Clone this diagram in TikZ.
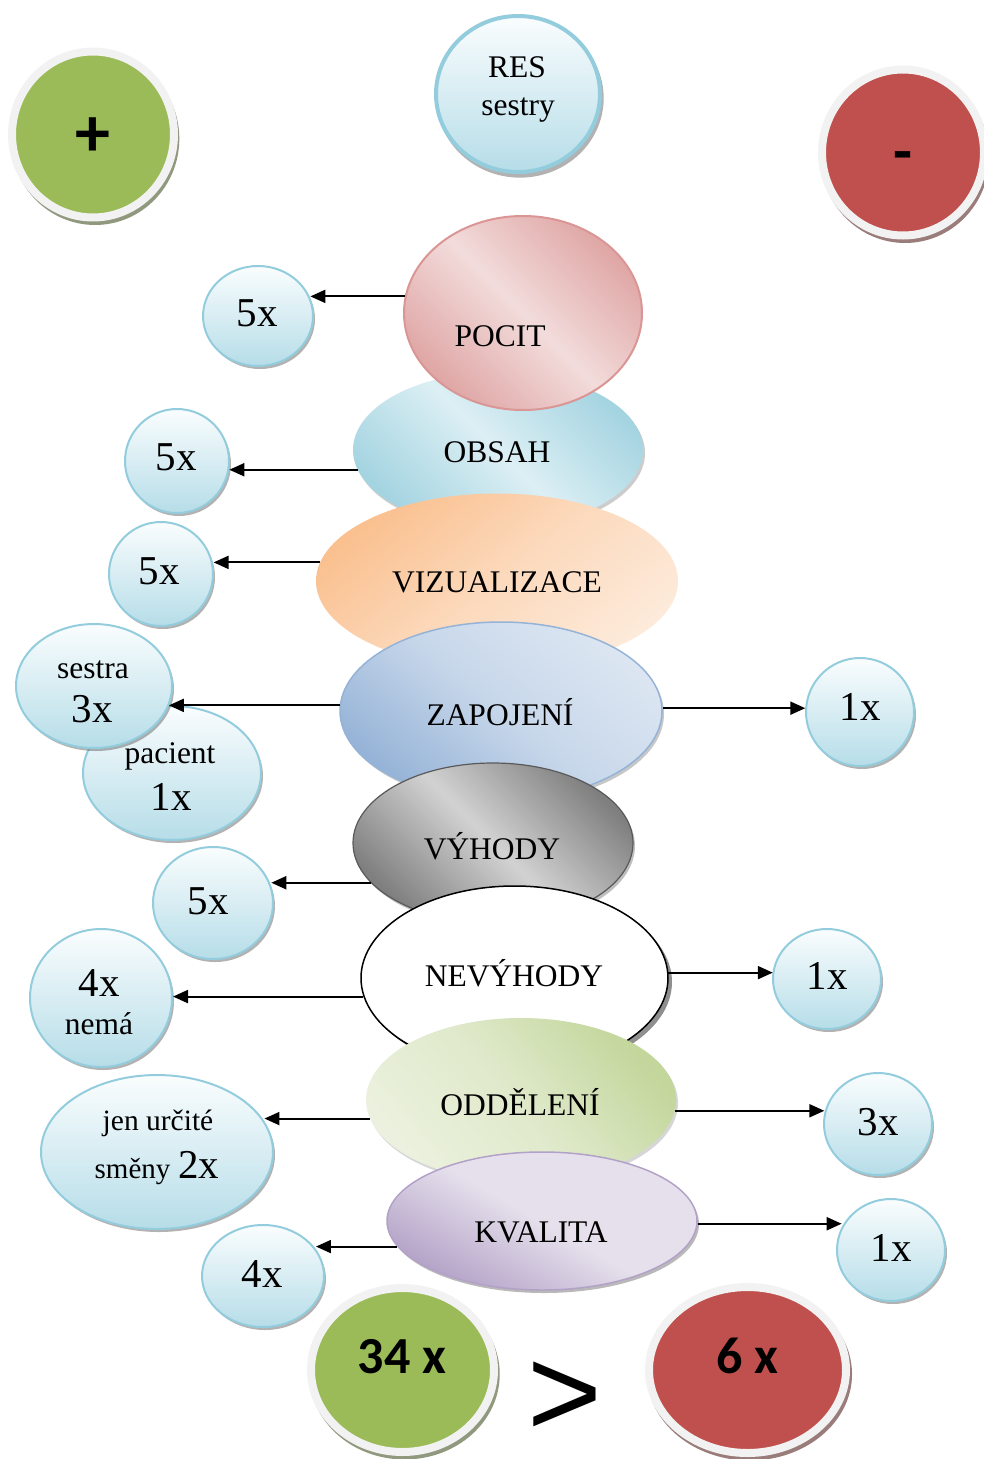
\documentclass[tikz,border=0pt]{standalone}
\usepackage{fontspec}
\setmainfont{Liberation Serif}
\newfontfamily\calfont{Carlito}
\newfontfamily\arialfont{Liberation Sans}
\usetikzlibrary{shapes.geometric,shadows,arrows.meta}
\definecolor{pmgreen}{HTML}{9BBB59}
\definecolor{pmred}{HTML}{C0504D}
\definecolor{ring}{HTML}{F2F2F2}
\definecolor{bluebd}{HTML}{93CDDD}
\definecolor{bluetop}{HTML}{FAFDFE}
\definecolor{bluebot}{HTML}{B6DDE8}
\definecolor{pinkbd}{HTML}{D99694}
\definecolor{pinkl}{HTML}{F2DCDB}
\definecolor{pinkd}{HTML}{DFA6A5}
\definecolor{obl}{HTML}{DCEFF4}
\definecolor{obd}{HTML}{A5D4E1}
\definecolor{orl}{HTML}{FDEADA}
\definecolor{ord}{HTML}{FAC08F}
\definecolor{zal}{HTML}{DCE6F2}
\definecolor{zad}{HTML}{95B3D7}
\definecolor{gyl}{HTML}{D2D2D2}
\definecolor{gyd}{HTML}{7F7F7F}
\definecolor{grl}{HTML}{EBF1DE}
\definecolor{grd}{HTML}{C3D69B}
\definecolor{pul}{HTML}{E6E0EC}
\definecolor{pud}{HTML}{B3A2C7}
\begin{document}
\begin{tikzpicture}[x=1pt,y=-1pt,
  smallell/.style={ellipse, inner sep=0pt, draw=bluebd, line width=2pt,
    top color=bluetop, bottom color=bluebot,
    drop shadow={shadow xshift=2pt, shadow yshift=-3pt, fill=black!60, opacity=.5}},
  mainell/.style={ellipse, inner sep=0pt},
  pmcirc/.style={ellipse, inner sep=0pt, draw=ring, line width=8pt},
  txt/.style={inner sep=0pt, anchor=base, font=\fontsize{31.5}{36}\selectfont},
  cnt/.style={inner sep=0pt, anchor=base, font=\fontsize{41}{46}\selectfont},
  bigtxt/.style={inner sep=0pt, anchor=base, font=\calfont\bfseries\fontsize{52}{60}\selectfont},
  arr/.style={-{Triangle[length=15pt,width=13pt]}, line width=2pt}]
\useasboundingbox (0,0) rectangle (983,1459);

% top circles
\node[pmcirc, fill=pmgreen, minimum width=162pt, minimum height=166pt,
  drop shadow={shadow xshift=2pt, shadow yshift=-4pt, shadow scale=1.04, fill=pmgreen!45!black, opacity=.6}] (plus) at (93,134.5) {};
\node[inner sep=0pt, font=\calfont\bfseries\fontsize{70}{80}\selectfont] (plust) at (93,137) {+};
\node[ellipse, inner sep=0pt, draw=bluebd, line width=4pt, top color=bluetop, bottom color=bluebot,
  minimum width=164pt, minimum height=156pt,
  drop shadow={shadow xshift=2pt, shadow yshift=-4pt, shadow scale=1.02, fill=black!60, opacity=.5}] (res) at (518,94) {};
\node[txt] (rest1) at (517,77) {RES};
\node[txt] (rest2) at (518,115) {sestry};
\node[pmcirc, fill=pmred, minimum width=162pt, minimum height=166pt,
  drop shadow={shadow xshift=2pt, shadow yshift=-4pt, shadow scale=1.04, fill=pmred!45!black, opacity=.6}] (minus) at (903,152.5) {};
\node[inner sep=0pt, font=\calfont\bfseries\fontsize{62}{70}\selectfont] (minust) at (903,162) {-};

% main ellipses
\node[mainell, minimum width=290pt, minimum height=156pt,
  top color=obd, bottom color=obd, middle color=obl, shading angle=135,
  drop shadow={shadow xshift=2pt, shadow yshift=-3pt, fill=black!50, opacity=.4}] (obsah) at (498,450) {};
\node[txt] (obsaht) at (497,462) {OBSAH};
\node[mainell, draw=pinkbd, line width=2pt, minimum width=238pt, minimum height=194pt,
  top color=pinkd, bottom color=pinkd, middle color=pinkl, shading angle=135] (pocit) at (523,313) {};
\node[txt] (pocitt) at (500,346) {POCIT};
\node[mainell, minimum width=362pt, minimum height=175pt,
  top color=ord, bottom color=orl, middle color=orl!60!ord, shading angle=40] (viz) at (497,581) {};
\node[txt] (vizt) at (497,592) {VIZUALIZACE};
\node[mainell, draw=zad, line width=1.5pt, minimum width=322pt, minimum height=178pt,
  top color=zal, bottom color=zad, middle color=zal!70!zad, shading angle=-40,
  drop shadow={shadow xshift=2pt, shadow yshift=-3pt, fill=black!55, opacity=.4}] (zap) at (501,711) {};
\node[txt] (zapt) at (500,725) {ZAPOJENÍ};
\node[mainell, draw=black!65, line width=1.2pt, minimum width=280pt, minimum height=160pt,
  top color=gyd, bottom color=gyd, middle color=gyl, shading angle=135,
  drop shadow={shadow xshift=2pt, shadow yshift=-3pt, fill=black!50, opacity=.5}] (vyh) at (493,843) {};
\node[txt] (vyht) at (492,859) {VÝHODY};
\node[mainell, draw=black, line width=1.5pt, fill=white, minimum width=307pt, minimum height=184pt,
  drop shadow={shadow xshift=4pt, shadow yshift=-4pt, fill=black!55, opacity=.8}] (nev) at (514.5,978) {};
\node[txt] (nevt) at (514,986) {NEVÝHODY};
\node[mainell, minimum width=310pt, minimum height=164pt,
  top color=grd, bottom color=grl, middle color=grl!70!grd, shading angle=-50,
  drop shadow={shadow xshift=2pt, shadow yshift=-3pt, fill=black!40, opacity=.4}] (odd) at (521,1100) {};
\node[txt] (oddt) at (520,1115) {ODDĚLENÍ};
\node[mainell, draw=pud, line width=1.5pt, minimum width=310pt, minimum height=138pt,
  top color=pul, bottom color=pud, middle color=pul, shading angle=-30,
  drop shadow={shadow xshift=2pt, shadow yshift=-3pt, fill=black!55, opacity=.5}] (kval) at (542,1221) {};
\node[txt] (kvalt) at (541,1242) {KVALITA};

% small ellipses
\node[smallell, minimum width=110pt, minimum height=100pt] (p5) at (258,316) {};
\node[cnt] (p5t) at (257,326) {5x};
\node[smallell, minimum width=104pt, minimum height=104pt] (o5) at (177,461) {};
\node[cnt] (o5t) at (176,470) {5x};
\node[smallell, minimum width=104pt, minimum height=104pt] (v5) at (161,574) {};
\node[cnt] (v5t) at (159,584) {5x};
\node[smallell, minimum width=178pt, minimum height=134pt] (pac) at (172,773) {};
\node[txt] (pact1) at (170,763) {pacient};
\node[cnt] (pact2) at (171,810) {1x};
\node[smallell, minimum width=156pt, minimum height=124pt] (ses) at (94,686) {};
\node[txt] (sest1) at (93,678) {sestra};
\node[cnt] (sest2) at (92,722) {3x};
\node[smallell, minimum width=108pt, minimum height=108pt] (z1) at (860,712) {};
\node[cnt] (z1t) at (860,720) {1x};
\node[smallell, minimum width=120pt, minimum height=112pt] (y5) at (213,903) {};
\node[cnt] (y5t) at (208,914) {5x};
\node[smallell, minimum width=142pt, minimum height=138pt] (n4) at (101,998) {};
\node[cnt] (n4t1) at (99,996) {4x};
\node[txt] (n4t2) at (99,1034) {nemá};
\node[smallell, minimum width=108pt, minimum height=100pt] (n1) at (827,979) {};
\node[cnt] (n1t) at (827,989) {1x};
\node[smallell, minimum width=232pt, minimum height=154pt] (jen) at (157,1152) {};
\node[txt, font=\fontsize{29.5}{34}\selectfont] (jent1) at (158,1130) {jen určité};
\node[txt] (jent2) at (157,1178) {{\fontsize{29}{34}\selectfont směny} {\fontsize{41}{46}\selectfont 2x}};
\node[smallell, minimum width=108pt, minimum height=102pt] (o3) at (878,1124) {};
\node[cnt] (o3t) at (878,1135) {3x};
\node[smallell, minimum width=122pt, minimum height=102pt] (k4) at (263,1276) {};
\node[cnt] (k4t) at (262,1287) {4x};
\node[smallell, minimum width=108pt, minimum height=102pt] (k1) at (891,1250) {};
\node[cnt] (k1t) at (891,1261) {1x};

% bottom
\node[pmcirc, fill=pmgreen, minimum width=183pt, minimum height=164pt,
  drop shadow={shadow xshift=2pt, shadow yshift=-4pt, shadow scale=1.04, fill=pmgreen!45!black, opacity=.6}] (g34) at (402.5,1370) {};
\node[bigtxt] (g34t) at (402,1373) {34 x};
\node[pmcirc, fill=pmred, minimum width=197pt, minimum height=166pt,
  drop shadow={shadow xshift=2pt, shadow yshift=-4pt, shadow scale=1.04, fill=pmred!45!black, opacity=.6}] (r6) at (747.5,1370) {};
\node[bigtxt] (r6t) at (747,1373) {6 x};
\node[inner sep=0pt, font=\arialfont\fontsize{128}{132}\selectfont] (gt) at (565,1399) {>};

% connectors
\draw[arr] (pocit.172.8) -- (pocit.172.8 -| p5.19);
\draw[arr] (obsah.188.1) -- (obsah.188.1 -| o5.-9.8);
\draw[arr] (viz.174.2) -- (viz.174.2 -| v5.7.6);
\draw[arr] (zap.178.9) -- (zap.178.9 -| ses.-15.8);
\draw[arr] (zap.1.1) -- (zap.1.1 -| z1.174.8);
\draw[arr] (vyh.198.9) -- (vyh.198.9 -| y5.16.3);
\draw[arr] (nev.187.6) -- (nev.187.6 -| n4.0);
\draw[arr] (nev.2.6) -- (nev.2.6 -| n1.171.6);
\draw[arr] (odd.187.5) -- (odd.187.5 -| jen.16.6);
\draw[arr] (odd.-4.9) -- (odd.-4.9 -| o3.168.5);
\draw[arr] (kval.190.7) -- (kval.190.7 -| k4.27);
\draw[arr] (kval.-1.85) -- (kval.-1.85 -| k1.155);
\end{tikzpicture}
\end{document}
